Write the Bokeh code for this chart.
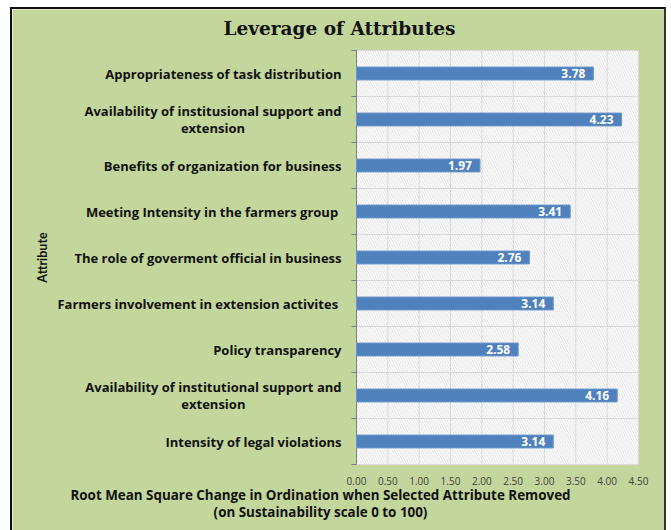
from bokeh.plotting import figure
from bokeh.models import Range1d, Label, ColumnDataSource
from bokeh.core.properties import value
from bokeh.embed import file_html
from bokeh.resources import INLINE
import math

categories = [
    "Appropriateness of task distribution",
    "Availability of institusional support and\nextension",
    "Benefits of organization for business",
    "Meeting Intensity in the farmers group ",
    "The role of goverment official in business",
    "Farmers involvement in extension activites ",
    "Policy transparency",
    "Availability of institutional support and\nextension",
    "Intensity of legal violations",
]
values = [3.78, 4.23, 1.97, 3.41, 2.76, 3.14, 2.58, 4.16, 3.14]
labels = ["%.2f" % v for v in values]
x_ticks = [0.0, 0.5, 1.0, 1.5, 2.0, 2.5, 3.0, 3.5, 4.0, 4.5]
x_tick_labels = ["%.2f" % t for t in x_ticks]
title_text = "Leverage of Attributes"
x_title = "Root Mean Square Change in Ordination when Selected Attribute Removed\n(on Sustainability scale 0 to 100)"
y_title = "Attribute"

n = len(categories)
ypos = [i + 0.5 for i in range(n)]
bounds = list(range(n + 1))

GREEN = "#C3D69B"
FONT = "Open Sans"
INK = "#111111"

# canvas geometry (px)
W, H = 652, 521
PLOT_L, PLOT_T, PLOT_W, PLOT_H = 344, 41, 282, 414
XMAX = x_ticks[-1]
px_x = PLOT_W / XMAX          # px per value unit
px_y = PLOT_H / n             # px per category band

x_range = Range1d(-PLOT_L / px_x, (W - PLOT_L) / px_x)
y_range = Range1d((H - PLOT_T) / px_y, -PLOT_T / px_y)

p = figure(width=W, height=H, frame_width=W, frame_height=H,
           x_range=x_range, y_range=y_range,
           x_axis_type=None, y_axis_type=None,
           output_backend="svg", toolbar_location=None,
           min_border=0, background_fill_color=GREEN, border_fill_color=GREEN,
           outline_line_color=None)
p.grid.visible = False
p.margin = (7, 5, 0, 10)
p.styles = {"border-left": "2px solid #111", "border-top": "2px solid #111",
            "border-right": "2px solid #333"}

# hatched plot area
p.quad(left=[0], right=[XMAX], top=[bounds[0]], bottom=[bounds[-1]],
       fill_color="white", line_color="#d9d9d9", line_width=1,
       hatch_pattern="\\", hatch_color="#d6d6d6", hatch_scale=5, hatch_weight=0.7)

# grid lines
p.segment(x0=x_ticks[1:], x1=x_ticks[1:], y0=[bounds[0]] * (len(x_ticks) - 1),
          y1=[bounds[-1]] * (len(x_ticks) - 1), line_color="#d9d9d9", line_width=1)
p.segment(x0=[0] * (n - 1), x1=[XMAX] * (n - 1), y0=bounds[1:-1], y1=bounds[1:-1],
          line_color="#d9d9d9", line_width=1)

# category axis line and tick marks (ticks between categories)
p.segment(x0=[0], x1=[0], y0=[bounds[0]], y1=[bounds[-1]], line_color="#7f7f7f", line_width=1)
p.segment(x0=[0] * len(bounds), x1=[-5 / px_x] * len(bounds), y0=bounds, y1=bounds,
          line_color="#7f7f7f", line_width=1)

# bars and value labels
src = ColumnDataSource(dict(y=ypos, v=values, t=labels, c=categories))
p.hbar(y="y", right="v", left=0, height=0.28, source=src,
       fill_color="#4F81BD", line_color="#6a96cc", line_width=1)
p.text(x="v", y="y", text="t", source=src, x_offset=-8,
       text_align="right", text_baseline="middle", text_color="white",
       text_font=value(FONT), text_font_style="bold", text_font_size="12px")

# category names: right-anchored blocks, lines centred
p.text(x=0, y="y", text="c", source=src, x_offset=-15,
       anchor="center_right", text_align="center", text_baseline="middle",
       text_color=INK, text_font=value(FONT), text_font_style="bold",
       text_font_size="13px", text_line_height=0.92)

# value-axis tick labels
p.text(x=x_ticks, y=[bounds[-1]] * len(x_ticks), text=x_tick_labels, y_offset=16,
       text_align="center", text_baseline="middle", text_color="#404040",
       text_font=value(FONT), text_font_size="10px")

# titles
p.add_layout(Label(x=327, y=H - 19, x_units="screen", y_units="screen", text=title_text,
                   text_font="DejaVu Serif", text_font_style="bold", text_font_size="18.5px",
                   text_color=INK, text_align="center", text_baseline="middle"))
p.add_layout(Label(x=308, y=H - 494, x_units="screen", y_units="screen", text=x_title,
                   text_font=FONT, text_font_style="bold", text_font_size="13.4px",
                   text_color=INK, text_align="center", text_baseline="middle",
                   text_line_height=0.9))
p.add_layout(Label(x=30, y=H - 248, x_units="screen", y_units="screen", text=y_title,
                   angle=math.pi / 2,
                   text_font="Lato", text_font_style="bold", text_font_size="12.5px",
                   text_color=INK, text_align="center", text_baseline="middle"))

with open("out.html", "w") as f:
    f.write(file_html(p, INLINE))
